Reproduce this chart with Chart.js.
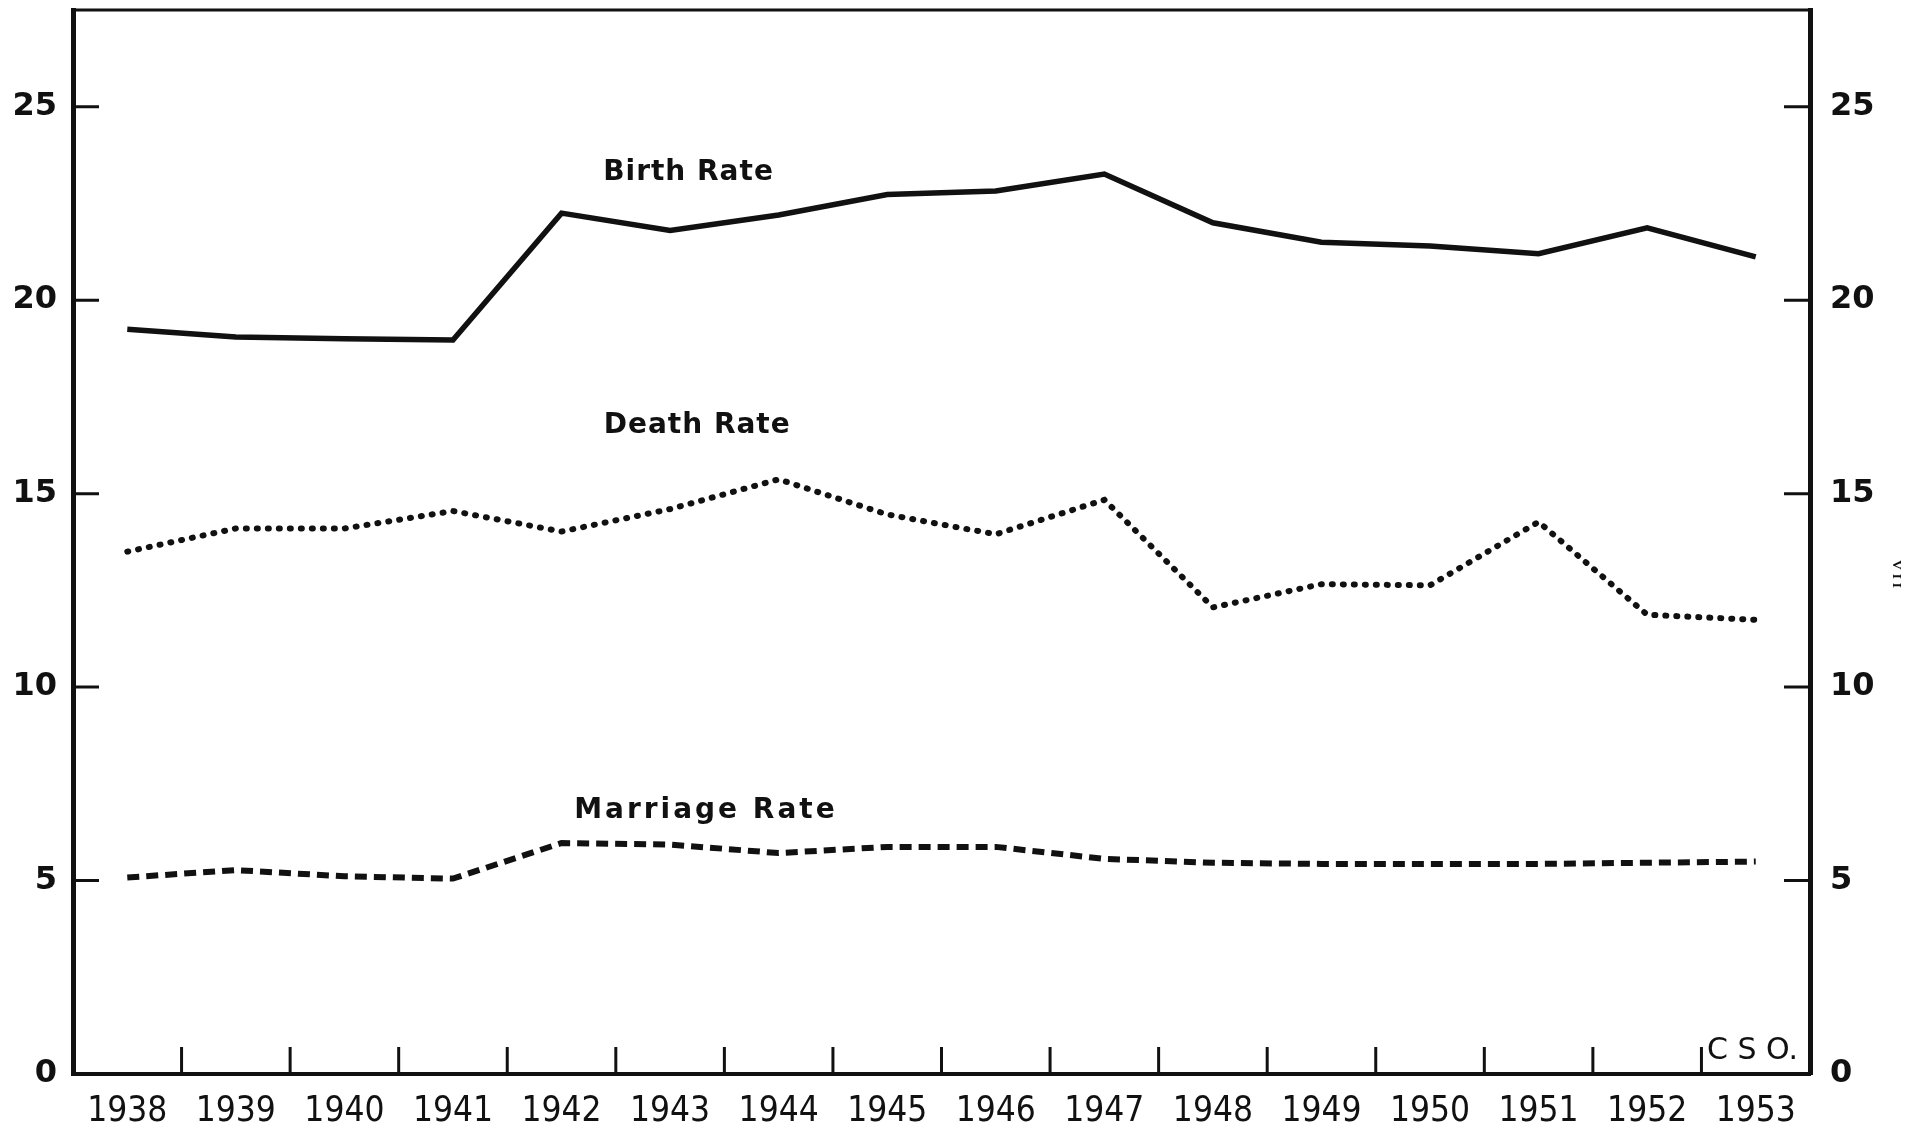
<!DOCTYPE html>
<html>
<head>
<meta charset="utf-8">
<title>Birth, Death and Marriage Rates 1938-1953</title>
<script src="https://cdn.jsdelivr.net/npm/chart.js@4.4.1/dist/chart.umd.min.js"></script>
<style>
  html, body { margin: 0; padding: 0; background: #fff; }
  #wrap { width: 1913px; height: 1123px; }
</style>
</head>
<body>
<div id="wrap"><canvas id="myChart" width="1913" height="1123"></canvas></div>
<script>
const years = ['1938', '1939', '1940', '1941', '1942', '1943', '1944', '1945',
               '1946', '1947', '1948', '1949', '1950', '1951', '1952', '1953'];
const birthRate = [19.25, 19.05, 19.0, 18.97, 22.25, 21.8, 22.2, 22.73,
                   22.82, 23.26, 22.0, 21.5, 21.4, 21.2, 21.87, 21.12];
const deathRate = [13.5, 14.1, 14.1, 14.55, 14.02, 14.6, 15.37, 14.46,
                   13.95, 14.84, 12.06, 12.66, 12.63, 14.27, 11.87, 11.74];
const marriageRate = [5.08, 5.27, 5.11, 5.05, 5.97, 5.93, 5.71, 5.87,
                      5.87, 5.56, 5.46, 5.43, 5.43, 5.43, 5.46, 5.49];
const yTicks = [0, 5, 10, 15, 20, 25];
const seriesNames = ['Birth Rate', 'Death Rate', 'Marriage Rate'];

const ink = '#111';

// frame top, inward tick marks and the hand lettered notes
const frame = {
    id: 'frame',
    afterDraw(chart) {
        const { ctx, chartArea: a, scales } = chart;
        ctx.save();
        ctx.strokeStyle = ink;
        ctx.lineCap = 'butt';

        ctx.lineWidth = 3;
        ctx.beginPath();
        ctx.moveTo(a.left - 2, a.top);
        ctx.lineTo(a.right + 2, a.top);
        ctx.stroke();

        ctx.lineWidth = 3;
        yTicks.forEach(v => {
            if (v === 0) return;
            const py = scales.y.getPixelForValue(v);
            ctx.beginPath();
            ctx.moveTo(a.left, py); ctx.lineTo(a.left + 26, py);
            ctx.moveTo(a.right, py); ctx.lineTo(a.right - 26, py);
            ctx.stroke();
        });

        for (let i = 0; i < years.length - 1; i++) {
            const px = (scales.x.getPixelForValue(i) + scales.x.getPixelForValue(i + 1)) / 2;
            ctx.beginPath();
            ctx.moveTo(px, a.bottom);
            ctx.lineTo(px, a.bottom - 27);
            ctx.stroke();
        }

        ctx.fillStyle = ink;
        ctx.textAlign = 'center';
        ctx.textBaseline = 'middle';
        const x = scales.x, y = scales.y;

        ctx.font = '600 28px "DejaVu Sans"';
        ctx.letterSpacing = '1px';
        ctx.fillText(seriesNames[0], x.getPixelForValue(5.17), y.getPixelForValue(23.3));
        ctx.fillText(seriesNames[1], x.getPixelForValue(5.25), y.getPixelForValue(16.75));
        ctx.letterSpacing = '3px';
        ctx.fillText(seriesNames[2], x.getPixelForValue(5.33), y.getPixelForValue(6.8));

        ctx.font = '30px "DejaVu Sans"';
        ctx.letterSpacing = '0px';
        ctx.fillText('C S O.', x.getPixelForValue(14.97), y.getPixelForValue(0.6));

        ctx.font = 'bold 13px "Liberation Serif"';
        ctx.letterSpacing = '4px';
        ctx.translate(1896, 576);
        ctx.rotate(Math.PI / 2);
        ctx.fillText('VII', 0, 0);
        ctx.restore();
    }
};

const ctx = document.getElementById('myChart').getContext('2d');
const myChart = new Chart(ctx, {
    type: 'line',
    data: {
        labels: years,
        datasets: [{
            label: seriesNames[0],
            data: birthRate,
            borderColor: ink,
            borderWidth: 5.5,
            borderJoinStyle: 'miter',
        }, {
            label: seriesNames[1],
            data: deathRate,
            borderColor: ink,
            borderWidth: 6,
            borderDash: [1, 10],
            borderCapStyle: 'round',
        }, {
            label: seriesNames[2],
            data: marriageRate,
            borderColor: ink,
            borderWidth: 6,
            borderDash: [12, 7],
        }]
    },
    plugins: [frame],
    options: {
        responsive: false,
        animation: false,
        layout: { padding: { top: 10, left: 0, right: 0, bottom: 0 } },
        elements: {
            point: { radius: 0 },
            line: { tension: 0, fill: false }
        },
        plugins: {
            legend: { display: false },
            tooltip: { enabled: false }
        },
        scales: {
            x: {
                type: 'category',
                offset: true,
                grid: { display: false },
                border: { display: true, color: ink, width: 4 },
                ticks: {
                    color: ink,
                    padding: 12,
                    maxRotation: 0,
                    autoSkip: false,
                    font: { family: '"DejaVu Sans Condensed", "DejaVu Sans"', size: 35, lineHeight: 1 }
                },
                afterFit(scale) {
                    scale.height = 49;
                    scale.paddingLeft = 0;
                    scale.paddingRight = 0;
                }
            },
            y: {
                position: 'left',
                min: 0,
                max: 27.5,
                grid: { display: false },
                border: { display: true, color: ink, width: 5 },
                afterBuildTicks(scale) { scale.ticks = yTicks.map(v => ({ value: v })); },
                ticks: {
                    color: ink,
                    padding: 8,
                    font: { family: '"DejaVu Sans"', size: 32, weight: 'bold', lineHeight: 1 }
                },
                afterFit(scale) {
                    scale.width = 73;
                    scale.paddingTop = 0;
                    scale.paddingBottom = 0;
                }
            },
            y2: {
                position: 'right',
                min: 0,
                max: 27.5,
                grid: { display: false },
                border: { display: true, color: ink, width: 5 },
                afterBuildTicks(scale) { scale.ticks = yTicks.map(v => ({ value: v })); },
                ticks: {
                    color: ink,
                    padding: 12,
                    font: { family: '"DejaVu Sans"', size: 32, weight: 'bold', lineHeight: 1 }
                },
                afterFit(scale) {
                    scale.width = 103;
                    scale.paddingTop = 0;
                    scale.paddingBottom = 0;
                }
            }
        }
    }
});
</script>
</body>
</html>
